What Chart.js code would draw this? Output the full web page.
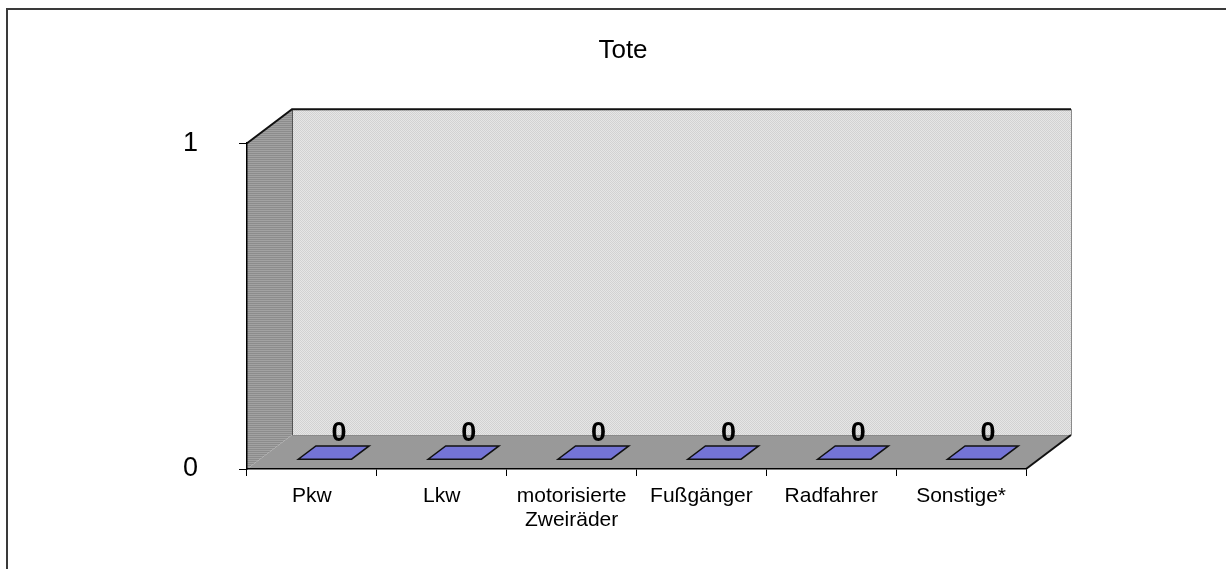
<!DOCTYPE html>
<html>
<head>
<meta charset="utf-8">
<script src="https://cdn.jsdelivr.net/npm/chart.js@4/dist/chart.umd.min.js"></script>
<style>
  body { margin: 0; background: #fff; }
</style>
</head>
<body>
<canvas id="chart" width="1226" height="569"></canvas>
<script>
// data
var categories = ["Pkw", "Lkw", ["motorisierte", "Zweiräder"], "Fußgänger", "Radfahrer", "Sonstige*"];
var tote = [0, 0, 0, 0, 0, 0];
var yTicks = [0, 1];

// depth of the 3d box (pixels)
var DX = 45, DY = 34;

function makePattern(ctx, w, h, draw) {
    var c = document.createElement('canvas');
    c.width = w; c.height = h;
    draw(c.getContext('2d'));
    return ctx.createPattern(c, 'repeat');
}

var walls3d = {
    id: 'walls3d',
    beforeDraw: function (chart) {
        var ctx = chart.ctx;
        var a = chart.chartArea;
        var L = a.left, R = a.right, T = a.top, B = a.bottom;

        ctx.save();
        // outer frame
        ctx.strokeStyle = '#3a3a3a';
        ctx.lineWidth = 2;
        ctx.strokeRect(7, 9, 1400, 800);

        // back wall
        ctx.fillStyle = makePattern(ctx, 2, 2, function (p) {
            p.fillStyle = '#e6e6e6'; p.fillRect(0, 0, 2, 2);
            p.fillStyle = '#d2d2d2'; p.fillRect(0, 0, 1, 1); p.fillRect(1, 1, 1, 1);
        });
        ctx.fillRect(L + DX, T - DY, R - L, B - T);

        // side wall
        ctx.fillStyle = makePattern(ctx, 2, 2, function (p) {
            p.fillStyle = '#a2a2a2'; p.fillRect(0, 0, 2, 2);
            p.fillStyle = '#8c8c8c'; p.fillRect(0, 1, 2, 1);
        });
        ctx.beginPath();
        ctx.moveTo(L, T);
        ctx.lineTo(L + DX, T - DY);
        ctx.lineTo(L + DX, B - DY);
        ctx.lineTo(L, B);
        ctx.closePath();
        ctx.fill();

        // floor
        ctx.fillStyle = '#999999';
        ctx.beginPath();
        ctx.moveTo(L, B);
        ctx.lineTo(L + DX, B - DY);
        ctx.lineTo(R + DX, B - DY);
        ctx.lineTo(R, B);
        ctx.closePath();
        ctx.fill();

        // edges
        ctx.lineWidth = 1;
        ctx.strokeStyle = '#8a8a8a';
        ctx.beginPath();
        ctx.moveTo(R + DX + 0.5, T - DY);
        ctx.lineTo(R + DX + 0.5, B - DY);
        ctx.moveTo(L + DX, B - DY + 0.5);
        ctx.lineTo(R + DX, B - DY + 0.5);
        ctx.stroke();

        ctx.strokeStyle = '#555';
        ctx.beginPath();
        ctx.moveTo(L + DX + 0.5, T - DY);
        ctx.lineTo(L + DX + 0.5, B - DY);
        ctx.stroke();

        ctx.strokeStyle = '#111';
        ctx.lineWidth = 2;
        ctx.beginPath();
        ctx.moveTo(L, T);
        ctx.lineTo(L + DX, T - DY);
        ctx.lineTo(R + DX, T - DY);
        ctx.stroke();
        ctx.beginPath();
        ctx.moveTo(R, B);
        ctx.lineTo(R + DX, B - DY);
        ctx.stroke();
        ctx.restore();
    },
    afterDatasetsDraw: function (chart) {
        var ctx = chart.ctx;
        var meta = chart.getDatasetMeta(0);
        var f1 = 0.29, f2 = 0.68;
        ctx.save();
        meta.data.forEach(function (el, i) {
            var w = el.width;
            var l = el.x - w / 2, r = el.x + w / 2;
            var top = el.y, base = el.base;
            // front face (zero height here)
            if (base - top > 0.5) {
                ctx.fillStyle = '#8888e8';
                ctx.fillRect(l + f1 * DX, top - f1 * DY, w, base - top);
            }
            // top face
            ctx.fillStyle = '#7474d6';
            ctx.strokeStyle = '#111';
            ctx.lineWidth = 1.5;
            ctx.beginPath();
            ctx.moveTo(l + f1 * DX, top - f1 * DY);
            ctx.lineTo(r + f1 * DX, top - f1 * DY);
            ctx.lineTo(r + f2 * DX, top - f2 * DY);
            ctx.lineTo(l + f2 * DX, top - f2 * DY);
            ctx.closePath();
            ctx.fill();
            ctx.stroke();

            // value label
            ctx.fillStyle = '#000';
            ctx.font = 'bold 27px "Liberation Sans", Arial, sans-serif';
            ctx.textAlign = 'center';
            ctx.textBaseline = 'middle';
            ctx.fillText(String(tote[i]), el.x + 0.6 * DX, top - f2 * DY - 12);
        });
        ctx.restore();
    }
};

var ctx = document.getElementById('chart');
var myChart = new Chart(ctx, {
    type: 'bar',
    data: {
        labels: categories,
        datasets: [{
            label: 'Tote',
            data: tote,
            backgroundColor: '#7474d6',
            borderWidth: 0,
            barPercentage: 0.41,
            categoryPercentage: 1
        }]
    },
    options: {
        responsive: false,
        animation: false,
        layout: { padding: { left: 170, right: 150, top: 0, bottom: 40 } },
        plugins: {
            legend: { display: false },
            tooltip: { enabled: false },
            title: {
                display: true,
                text: 'Tote',
                color: '#000',
                font: { family: '"Liberation Sans", Arial, sans-serif', size: 26, weight: 'normal' },
                padding: { top: 35, bottom: 77 }
            }
        },
        scales: {
            x: {
                offset: true,
                grid: { offset: true, drawOnChartArea: false, drawTicks: true, tickLength: 7, color: '#000' },
                border: { display: true, color: '#000', width: 1.5 },
                ticks: {
                    color: '#000',
                    padding: 8,
                    maxRotation: 0,
                    autoSkip: false,
                    font: { family: '"Liberation Sans", Arial, sans-serif', size: 21, lineHeight: 1.15 }
                },
                afterFit: function (s) { s.height = 60; }
            },
            y: {
                min: 0,
                max: 1,
                grid: { drawOnChartArea: false, drawTicks: true, tickLength: 8, color: '#000' },
                border: { display: true, color: '#000', width: 1.5 },
                ticks: {
                    color: '#000',
                    padding: 41,
                    font: { family: '"Liberation Sans", Arial, sans-serif', size: 27 }
                },
                afterBuildTicks: function (s) {
                    s.ticks = yTicks.map(function (v) { return { value: v }; });
                },
                afterFit: function (s) { s.width = 77; }
            },
            // empty right-hand box, keeps the plot where the original has it
            yRight: {
                position: 'right',
                min: 0,
                max: 1,
                grid: { display: false },
                border: { display: false },
                ticks: { display: false },
                afterFit: function (s) { s.width = 50; }
            }
        }
    },
    plugins: [walls3d]
});
</script>
</body>
</html>
